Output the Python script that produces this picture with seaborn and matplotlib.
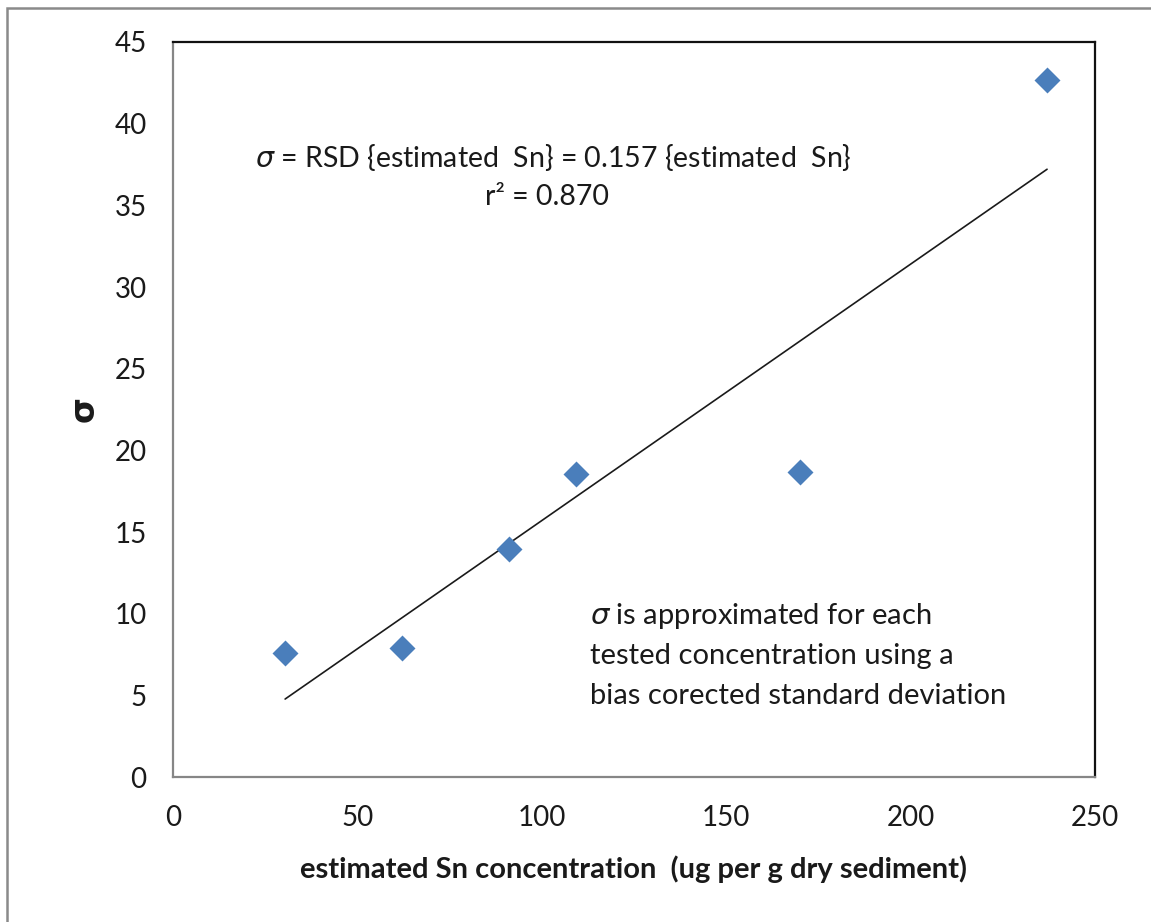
import numpy as np
import pandas as pd
import matplotlib
matplotlib.use("Agg")
import matplotlib.pyplot as plt
from matplotlib.patches import Rectangle
import seaborn as sns

# ---- data ----
sn_conc = [30.4, 62.1, 91.1, 109.3, 170.0, 237.0]
sigma_vals = [7.6, 7.9, 13.95, 18.55, 18.65, 42.65]
fit_slope = 0.157
r_squared = 0.870
x_ticks = [0, 50, 100, 150, 200, 250]
y_ticks = [0, 5, 10, 15, 20, 25, 30, 35, 40, 45]

sns.set_theme(style="white")
plt.rcParams['font.family'] = ['Lato', 'DejaVu Sans']
plt.rcParams['mathtext.fontset'] = 'dejavusans'

df = pd.DataFrame({"x": sn_conc, "y": sigma_vals})
fit_x = np.array([min(sn_conc), max(sn_conc)])
fit_df = pd.DataFrame({"x": fit_x, "y": fit_slope * fit_x})

W, H = 1151, 922
fig = plt.figure(figsize=(W / 100, H / 100), dpi=100)
fig.patch.set_facecolor("white")
ax = fig.add_axes([173 / W, 1 - 777 / H, (1095 - 173) / W, (777 - 42) / H])

sns.lineplot(data=fit_df, x="x", y="y", ax=ax, color="#1a1a1a", linewidth=1.2)
sns.scatterplot(data=df, x="x", y="y", ax=ax, marker="D", s=175,
                color="#4a7ebb", edgecolor="#4a7ebb", linewidth=0, zorder=3)

ax.set_xlim(0, 250)
ax.set_ylim(0, 45)
ax.set_xticks(x_ticks)
ax.set_yticks(y_ticks)
ax.set_xticklabels([str(t) for t in x_ticks])
ax.set_yticklabels([str(t) for t in y_ticks])

tick_col = "#868686"
for side in ["left", "bottom"]:
    ax.spines[side].set_color(tick_col)
    ax.spines[side].set_linewidth(1.6)
for side in ["top", "right"]:
    ax.spines[side].set_color("#111111")
    ax.spines[side].set_linewidth(1.6)
ax.tick_params(axis="both", which="major", direction="out", length=7, width=1.4,
               color=tick_col, labelsize=20, labelcolor="#1a1a1a")
ax.tick_params(axis="y", pad=12)
ax.tick_params(axis="x", pad=13)
ax.grid(False)

ax.set_xlabel("estimated Sn concentration  (ug per g dry sediment)", fontsize=21,
              fontweight="bold", color="#1a1a1a", labelpad=18)
ax.set_ylabel("σ", fontsize=24, fontweight="bold", color="#1a1a1a", labelpad=10,
              family=["DejaVu Sans"])

txt_col = "#1a1a1a"
fs = 20.5
ax.text(103.0, 37.95, r"$\sigma$ = RSD {estimated  Sn} = " + f"{fit_slope:.3f}" + " {estimated  Sn}",
        ha="center", va="center", fontsize=fs, color=txt_col)
ax.text(101.5, 35.5, "r² = " + f"{r_squared:.3f}", ha="center", va="center",
        fontsize=fs, color=txt_col)

note_lines = [r"$\sigma$ is approximated for each",
              "tested concentration using a",
              "bias corected standard deviation"]
for i, line in enumerate(note_lines):
    ax.text(113.0, 9.85 - i * 2.45, line, ha="left", va="center", fontsize=21, color=txt_col)

# outer chart border
fig.add_artist(Rectangle((7 / W, -0.1), 1.2, 1.1 - 8 / H, transform=fig.transFigure,
                         fill=False, edgecolor="#8a8a8a", linewidth=1.8, clip_on=False))

fig.savefig("out.png", dpi=100, facecolor="white")
